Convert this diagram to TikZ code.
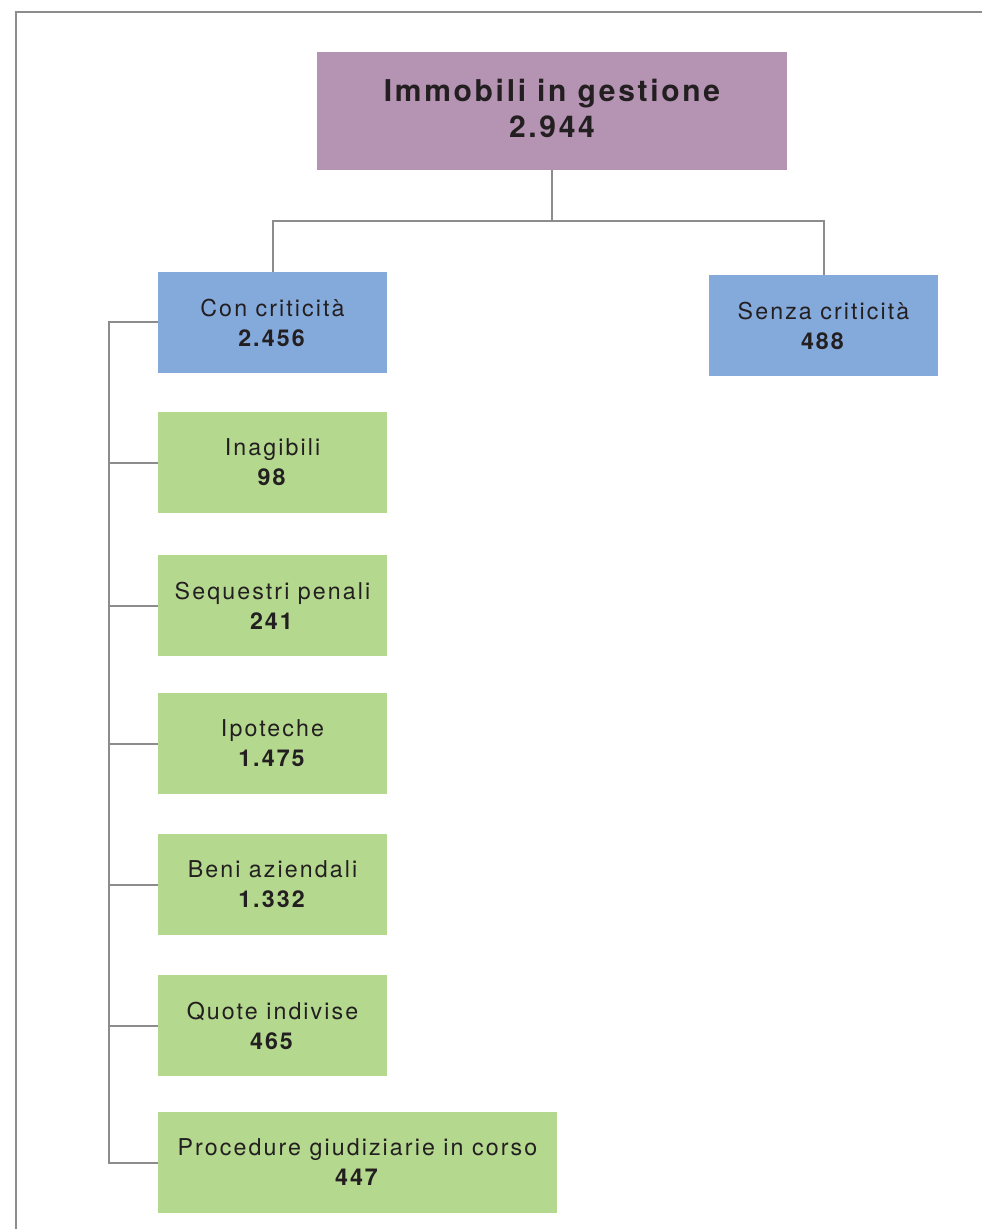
\documentclass[tikz,border=0pt]{standalone}
\usepackage{fontspec}
\setmainfont[LetterSpace=9]{TeX Gyre Heros}
\usetikzlibrary{positioning,calc}
\definecolor{imgpurple}{RGB}{181, 147, 179}
\definecolor{imgblue}{RGB}{132, 169, 219}
\definecolor{imggreen}{RGB}{181, 216, 143}
\definecolor{imggray}{RGB}{140, 140, 140}
\definecolor{imgtext}{RGB}{35, 31, 32}

\begin{document}
\begin{tikzpicture}[x=0.5pt, y=-0.5pt,
		% Node styles
		root/.style={fill=imgpurple, text=imgtext, minimum width=235pt, minimum height=59pt,
				font=\fontsize{15}{18}\selectfont\bfseries, align=center, inner sep=0pt},
		group/.style={fill=imgblue, text=imgtext, minimum width=114.5pt, minimum height=50.5pt,
				font=\fontsize{11.6}{15}\selectfont, align=center, inner sep=0pt},
		item/.style={fill=imggreen, text=imgtext, minimum width=114.5pt, minimum height=50.5pt,
				font=\fontsize{11.6}{15}\selectfont, align=center, inner sep=0pt},
		connector/.style={draw=imggray, line width=1pt},
		frame/.style={draw=imggray, line width=1pt}
	]

	\useasboundingbox (0,0) rectangle (982,1229);
	\draw[frame] (16,1229) -- (16,12) -- (982,12);

	% Main components
	\node[root] (total) at (552,111) {Immobili in gestione \\ 2.944 \\[-15pt]};
	\node[group] (con) at (272.5,322.5) {Con criticità \\ \textbf{2.456}};
	\node[group] (senza) at (823.5,325.5) {Senza criticità \\ \textbf{488}};

	% Critical properties
	\node[item] (inagibili) at (272.5,462.5) {Inagibili \\ \textbf{98}};
	\node[item] (sequestri) at (272.5,605.5) {Sequestri penali \\ \textbf{241}};
	\node[item] (ipoteche) at (272.5,743.5) {Ipoteche \\ \textbf{1.475}};
	\node[item] (beni) at (272.5,884.5) {Beni aziendali \\ \textbf{1.332}};
	\node[item] (quote) at (272.5,1025.5) {Quote indivise \\ \textbf{465}};
	\node[item, minimum width=199.5pt] (procedure) at (357.5,1162.5) {Procedure giudiziarie in corso \\ \textbf{447}};

	% Connections
	\draw[connector] (total.south) -- ++(0,51) -| (con.north);
	\draw[connector] (total.south) -- ++(0,51) -| (senza.north);

	% Side bus to the sub-items
	\foreach \n in {inagibili,sequestri,ipoteche,beni,quote,procedure}
		\draw[connector] (con.west) -- ++(-49,0) |- (\n.west);

\end{tikzpicture}
\end{document}
